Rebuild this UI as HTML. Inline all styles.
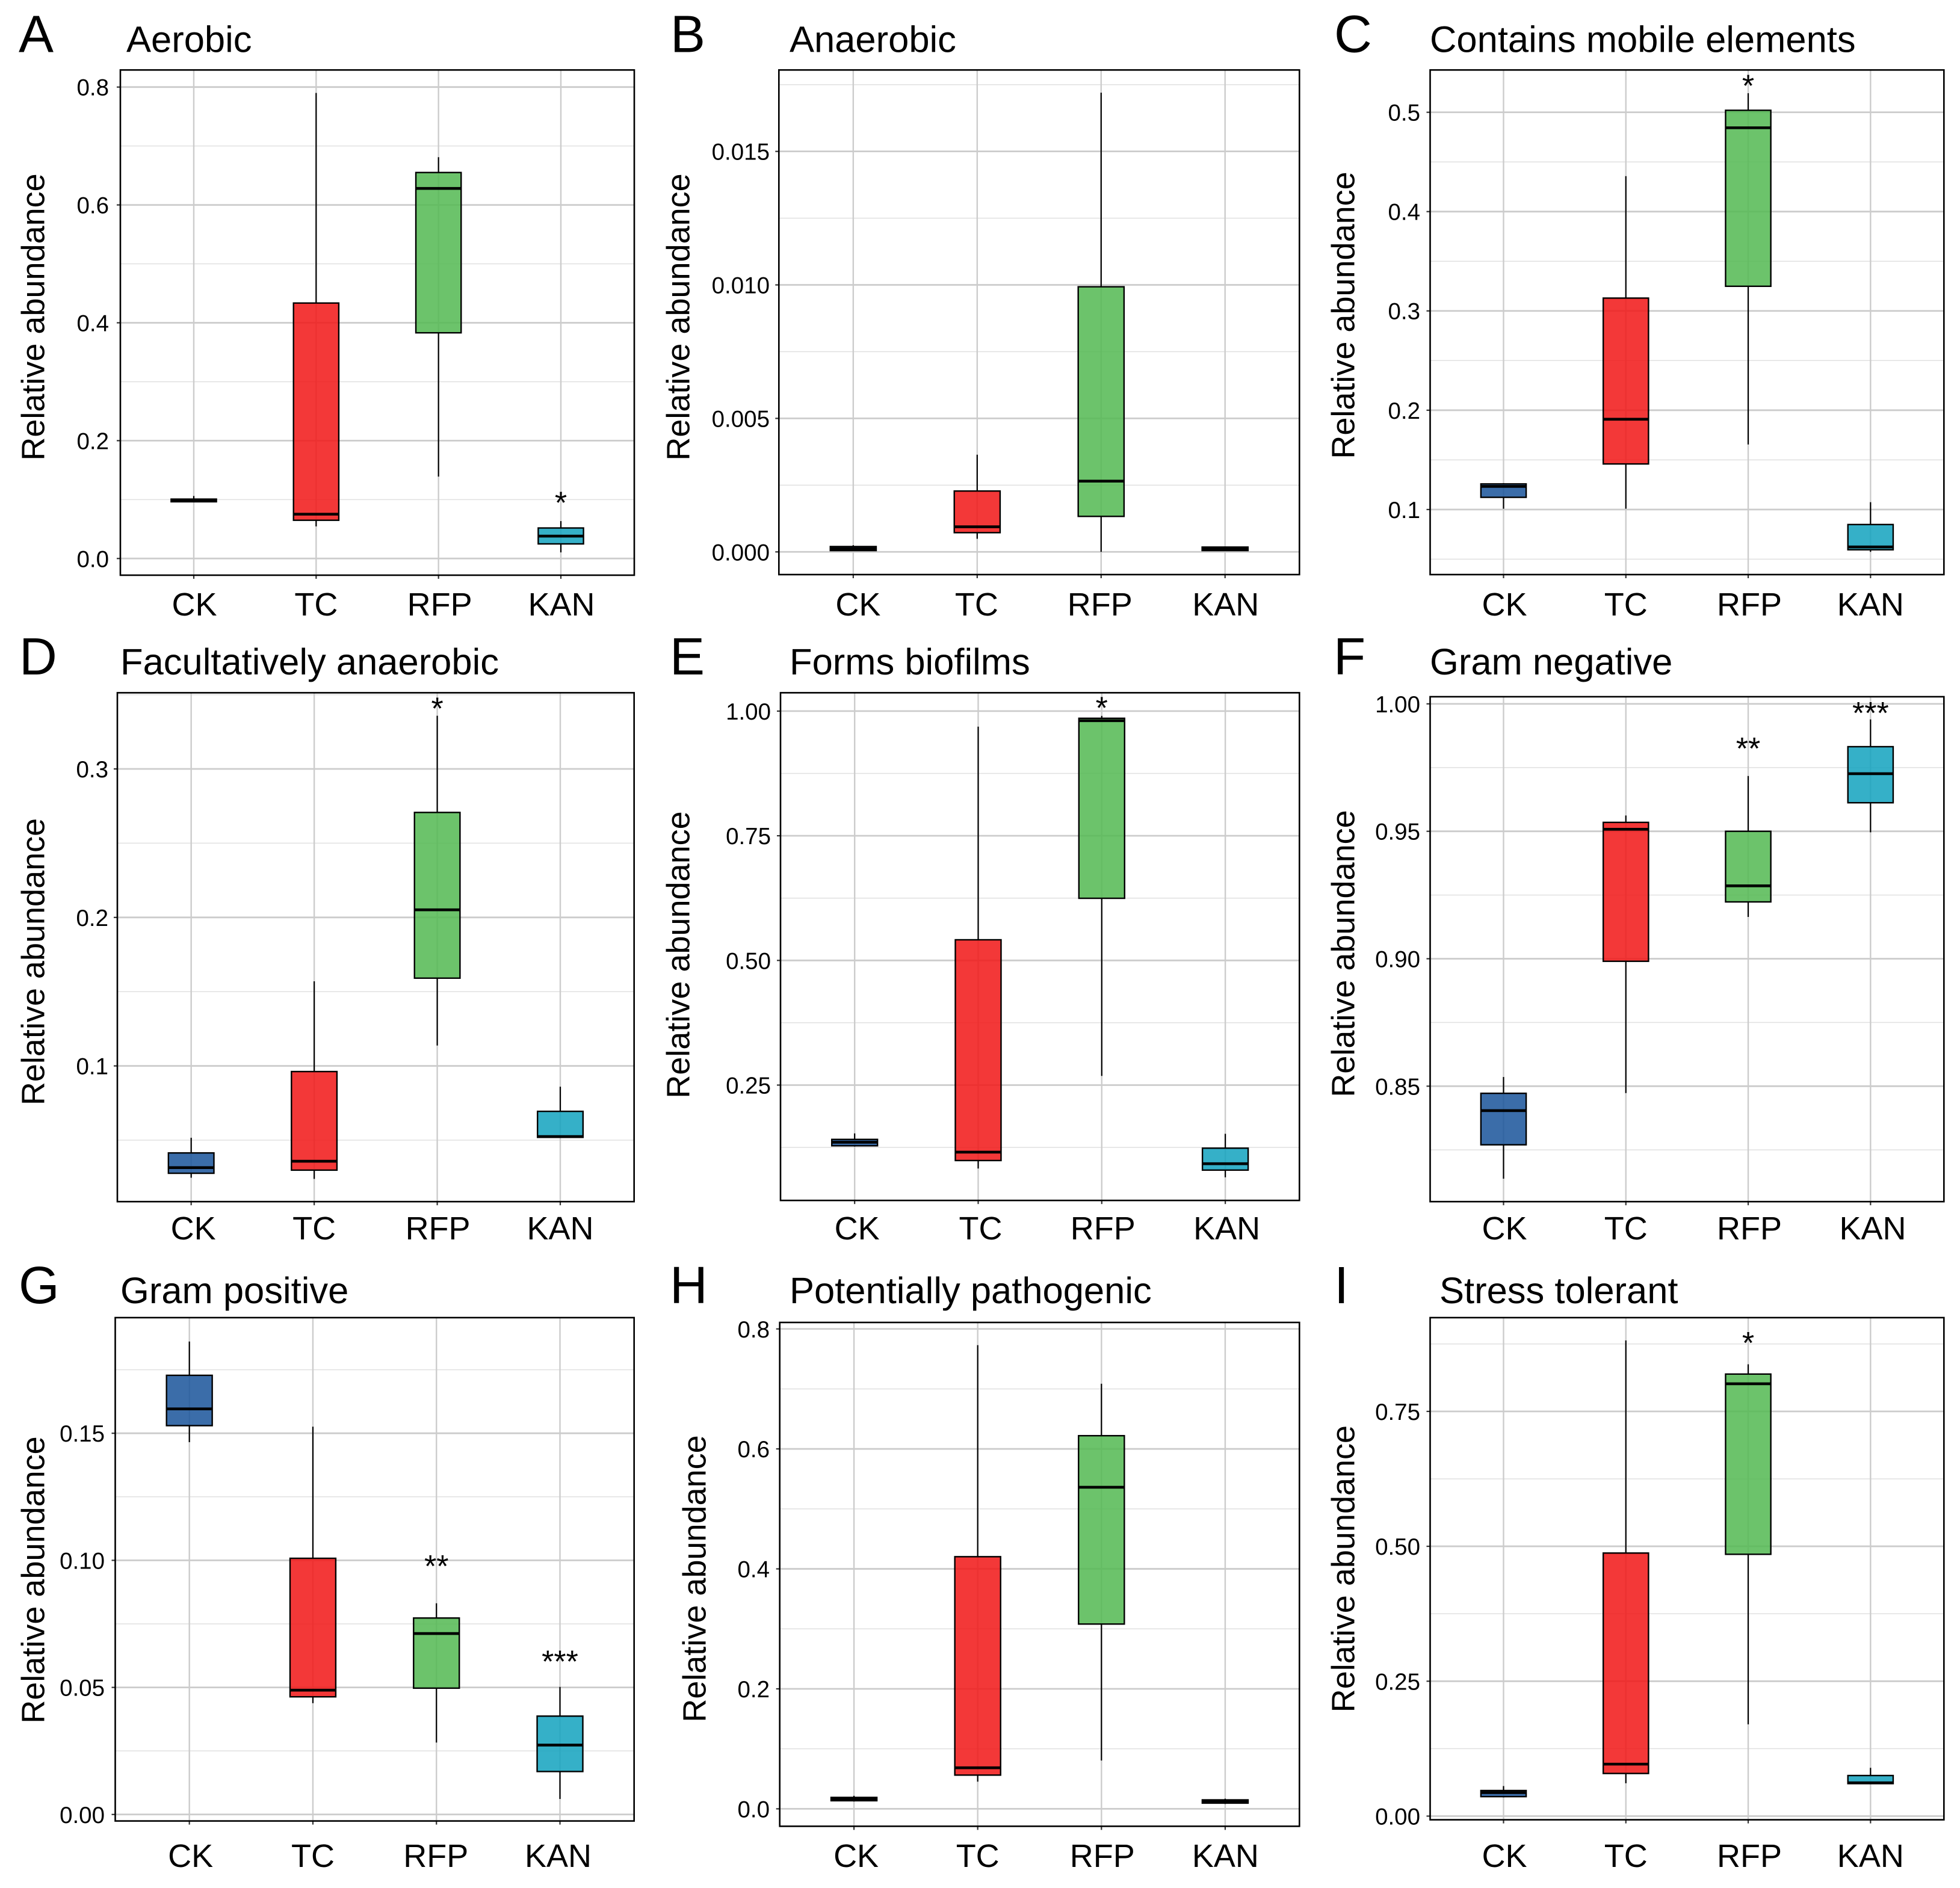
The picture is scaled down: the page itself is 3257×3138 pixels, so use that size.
<!DOCTYPE html>
<html>
<head>
<meta charset="utf-8">
<title>Relative abundance of predicted bacterial phenotypes</title>
<style>
html,body{margin:0;padding:0;background:#fff}
svg{display:block}
text{font-family:"Liberation Sans",Arial,sans-serif;fill:#000}
.letter{font-size:87px}
.title{font-size:61.5px}
.ylab{font-size:54px;text-anchor:middle}
</style>
</head>
<body>
<svg id="figure" xmlns="http://www.w3.org/2000/svg" width="3257" height="3138" viewBox="0 0 3257 3138">
<rect x="0" y="0" width="3257" height="3138" fill="#fff"/>

<g id="panel-aerobic">
<text class="letter" x="31" y="86.5">A</text>
<text class="title" x="210" y="86.5">Aerobic</text>
<text class="ylab" transform="translate(73.7 527) rotate(-90)">Relative abundance</text>
</g>
<g id="panel-anaerobic">
<text class="letter" x="1114" y="86.5">B</text>
<text class="title" x="1312" y="86.5">Anaerobic</text>
<text class="ylab" transform="translate(1145.6 527) rotate(-90)">Relative abundance</text>
</g>
<g id="panel-mobile">
<text class="letter" x="2217" y="86.5">C</text>
<text class="title" x="2376" y="86.5">Contains mobile elements</text>
<text class="ylab" transform="translate(2250.7 524) rotate(-90)">Relative abundance</text>
</g>
<g id="panel-facultative">
<text class="letter" x="32" y="1121">D</text>
<text class="title" x="200" y="1121">Facultatively anaerobic</text>
<text class="ylab" transform="translate(73.7 1598.5) rotate(-90)">Relative abundance</text>
</g>
<g id="panel-biofilm">
<text class="letter" x="1113" y="1121">E</text>
<text class="title" x="1312" y="1121">Forms biofilms</text>
<text class="ylab" transform="translate(1145.6 1587) rotate(-90)">Relative abundance</text>
</g>
<g id="panel-gramneg">
<text class="letter" x="2216" y="1121">F</text>
<text class="title" x="2376" y="1121">Gram negative</text>
<text class="ylab" transform="translate(2250.7 1585) rotate(-90)">Relative abundance</text>
</g>
<g id="panel-grampos">
<text class="letter" x="31" y="2166">G</text>
<text class="title" x="200" y="2166">Gram positive</text>
<text class="ylab" transform="translate(73.7 2626) rotate(-90)">Relative abundance</text>
</g>
<g id="panel-pathogenic">
<text class="letter" x="1113" y="2166">H</text>
<text class="title" x="1312" y="2166">Potentially pathogenic</text>
<text class="ylab" transform="translate(1172.3 2624) rotate(-90)">Relative abundance</text>
</g>
<g id="panel-stress">
<text class="letter" x="2217" y="2166">I</text>
<text class="title" x="2392" y="2166">Stress tolerant</text>
<text class="ylab" transform="translate(2250.7 2607.6) rotate(-90)">Relative abundance</text>
</g>
</svg>

<script>
const categories = ['CK', 'TC', 'RFP', 'KAN'];

const aerobicLow = [0.096, 0.0545, 0.139, 0.0104];
const aerobicQ1 = [0.0963, 0.0649, 0.383, 0.0248];
const aerobicMedian = [0.0985, 0.0752, 0.628, 0.038];
const aerobicQ3 = [0.1008, 0.4335, 0.655, 0.0518];
const aerobicHigh = [0.1061, 0.79, 0.681, 0.0635];
const aerobicTicks = ['0.0', '0.2', '0.4', '0.6', '0.8'];
const aerobicStars = ['', '', '', '*'];
const aerobicStarAt = [0, 0, 0, 0.102];

const anaerobicLow = [0.00003, 0.00049, 0, 0.00004];
const anaerobicQ1 = [0.00005, 0.00072, 0.00133, 0.00005];
const anaerobicMedian = [0.00012, 0.00094, 0.00265, 0.00012];
const anaerobicQ3 = [0.0002, 0.00228, 0.00993, 0.00018];
const anaerobicHigh = [0.00025, 0.00364, 0.0172, 0.0002];
const anaerobicTicks = ['0.000', '0.005', '0.010', '0.015'];
const anaerobicStars = ['', '', '', ''];
const anaerobicStarAt = [0, 0, 0, 0];

const mobileLow = [0.1008, 0.1008, 0.1655, 0.0574];
const mobileQ1 = [0.1123, 0.1459, 0.3248, 0.0595];
const mobileMedian = [0.1233, 0.1909, 0.4844, 0.0623];
const mobileQ3 = [0.1258, 0.3129, 0.502, 0.0849];
const mobileHigh = [0.1266, 0.4357, 0.5192, 0.1074];
const mobileTicks = ['0.1', '0.2', '0.3', '0.4', '0.5'];
const mobileStars = ['', '', '*', ''];
const mobileStarAt = [0, 0, 0.531, 0];

const facultativeLow = [0.0247, 0.0239, 0.1137, 0.0519];
const facultativeQ1 = [0.0277, 0.0298, 0.1591, 0.0519];
const facultativeMedian = [0.0315, 0.0358, 0.2051, 0.0524];
const facultativeQ3 = [0.0414, 0.0962, 0.2707, 0.0694];
const facultativeHigh = [0.0516, 0.157, 0.3358, 0.086];
const facultativeTicks = ['0.1', '0.2', '0.3'];
const facultativeStars = ['', '', '*', ''];
const facultativeStarAt = [0, 0, 0.3435, 0];

const biofilmLow = [0.1267, 0.0827, 0.2684, 0.0651];
const biofilmQ1 = [0.1283, 0.0987, 0.6246, 0.0795];
const biofilmMedian = [0.1355, 0.1155, 0.9808, 0.0923];
const biofilmQ3 = [0.1411, 0.5414, 0.9856, 0.1235];
const biofilmHigh = [0.1531, 0.9688, 0.9904, 0.1523];
const biofilmTicks = ['0.25', '0.50', '0.75', '1.00'];
const biofilmStars = ['', '', '*', ''];
const biofilmStarAt = [0, 0, 1.015, 0];

const gramNegLow = [0.8137, 0.8473, 0.9164, 0.9496];
const gramNegQ1 = [0.827, 0.899, 0.9223, 0.9612];
const gramNegMedian = [0.8404, 0.9508, 0.9286, 0.9726];
const gramNegQ3 = [0.8472, 0.9535, 0.95, 0.9832];
const gramNegHigh = [0.8536, 0.9562, 0.9717, 0.9939];
const gramNegTicks = ['0.85', '0.90', '0.95', '1.00'];
const gramNegStars = ['', '', '**', '***'];
const gramNegStarAt = [0, 0, 0.9842, 0.9981];

const gramPosLow = [0.1465, 0.0438, 0.0283, 0.0061];
const gramPosQ1 = [0.153, 0.0463, 0.0497, 0.0169];
const gramPosMedian = [0.1596, 0.0489, 0.0712, 0.0273];
const gramPosQ3 = [0.1728, 0.1008, 0.0773, 0.0387];
const gramPosHigh = [0.1861, 0.1526, 0.0831, 0.0502];
const gramPosTicks = ['0.00', '0.05', '0.10', '0.15'];
const gramPosStars = ['', '', '**', '***'];
const gramPosStarAt = [0, 0, 0.0994, 0.0618];

const pathogenicLow = [0.0122, 0.0453, 0.0805, 0.0081];
const pathogenicQ1 = [0.0135, 0.0562, 0.308, 0.0095];
const pathogenicMedian = [0.0162, 0.0684, 0.536, 0.0129];
const pathogenicQ3 = [0.019, 0.4203, 0.622, 0.0149];
const pathogenicHigh = [0.0217, 0.7729, 0.7086, 0.0169];
const pathogenicTicks = ['0.0', '0.2', '0.4', '0.6', '0.8'];
const pathogenicStars = ['', '', '', ''];
const pathogenicStarAt = [0, 0, 0, 0];

const stressLow = [0.0346, 0.0609, 0.17, 0.0594];
const stressQ1 = [0.0361, 0.079, 0.4852, 0.0602];
const stressMedian = [0.0436, 0.0963, 0.8012, 0.0617];
const stressQ3 = [0.0474, 0.4875, 0.8192, 0.0752];
const stressHigh = [0.0557, 0.8816, 0.8373, 0.0895];
const stressTicks = ['0.00', '0.25', '0.50', '0.75'];
const stressStars = ['', '', '*', ''];
const stressStarAt = [0, 0, 0.8847, 0];

const fillColors = ['#19549A', '#F11515', '#52B951', '#12A2BE'];

const layout = [
  {id:'aerobic', g:'panel-aerobic', l:200, t:116.3, r:1054, b:956, yMin:-0.0283, yMax:0.829, tickRight:181, labelY:1023, nudge:[1,0,2,1],
   low:aerobicLow, q1:aerobicQ1, med:aerobicMedian, q3:aerobicQ3, high:aerobicHigh, ticks:aerobicTicks, stars:aerobicStars, starAt:aerobicStarAt},
  {id:'anaerobic', g:'panel-anaerobic', l:1294.3, t:116.3, r:2159.3, b:955, yMin:-0.00085, yMax:0.01805, tickRight:1279, labelY:1023, nudge:[8,-1,-2,1],
   low:anaerobicLow, q1:anaerobicQ1, med:anaerobicMedian, q3:anaerobicQ3, high:anaerobicHigh, ticks:anaerobicTicks, stars:anaerobicStars, starAt:anaerobicStarAt},
  {id:'mobile-elements', g:'panel-mobile', l:2376.5, t:116.3, r:3230.3, b:955, yMin:0.0345, yMax:0.5426, tickRight:2360, labelY:1023, nudge:[1.5,0,2,0],
   low:mobileLow, q1:mobileQ1, med:mobileMedian, q3:mobileQ3, high:mobileHigh, ticks:mobileTicks, stars:mobileStars, starAt:mobileStarAt},
  {id:'facultatively-anaerobic', g:'panel-facultative', l:195, t:1151.4, r:1053.7, b:1997.2, yMin:0.0086, yMax:0.3513, tickRight:180, labelY:2060, nudge:[3.5,0,1,0],
   low:facultativeLow, q1:facultativeQ1, med:facultativeMedian, q3:facultativeQ3, high:facultativeHigh, ticks:facultativeTicks, stars:facultativeStars, starAt:facultativeStarAt},
  {id:'forms-biofilms', g:'panel-biofilm', l:1297, t:1151.4, r:2159.3, b:1995.2, yMin:0.0187, yMax:1.0368, tickRight:1281, labelY:2060, nudge:[4,4,2,2.5],
   low:biofilmLow, q1:biofilmQ1, med:biofilmMedian, q3:biofilmQ3, high:biofilmHigh, ticks:biofilmTicks, stars:biofilmStars, starAt:biofilmStarAt},
  {id:'gram-negative', g:'panel-gramneg', l:2376.5, t:1158, r:3230.3, b:1997.2, yMin:0.8047, yMax:1.0028, tickRight:2360, labelY:2060, nudge:[1.5,0,2,3.7],
   low:gramNegLow, q1:gramNegQ1, med:gramNegMedian, q3:gramNegQ3, high:gramNegHigh, ticks:gramNegTicks, stars:gramNegStars, starAt:gramNegStarAt},
  {id:'gram-positive', g:'panel-grampos', l:191.5, t:2190, r:1053.7, b:3026.6, yMin:-0.00256, yMax:0.1955, tickRight:174, labelY:3103, nudge:[2,0,-1,-3],
   low:gramPosLow, q1:gramPosQ1, med:gramPosMedian, q3:gramPosQ3, high:gramPosHigh, ticks:gramPosTicks, stars:gramPosStars, starAt:gramPosStarAt},
  {id:'potentially-pathogenic', g:'panel-pathogenic', l:1295.7, t:2198, r:2159.3, b:3035.4, yMin:-0.0291, yMax:0.8108, tickRight:1279, labelY:3103, nudge:[3.5,0,1.5,0.5],
   low:pathogenicLow, q1:pathogenicQ1, med:pathogenicMedian, q3:pathogenicQ3, high:pathogenicHigh, ticks:pathogenicTicks, stars:pathogenicStars, starAt:pathogenicStarAt},
  {id:'stress-tolerant', g:'panel-stress', l:2376.5, t:2190, r:3230.3, b:3024.6, yMin:-0.0068, yMax:0.9238, tickRight:2360, labelY:3103, nudge:[1.5,0,2,0],
   low:stressLow, q1:stressQ1, med:stressMedian, q3:stressQ3, high:stressHigh, ticks:stressTicks, stars:stressStars, starAt:stressStarAt}
];

const NS = 'http://www.w3.org/2000/svg';

function shape(parent, tag, attrs, content) {
  const node = document.createElementNS(NS, tag);
  Object.keys(attrs).forEach(function (k) { node.setAttribute(k, attrs[k]); });
  if (content !== undefined) node.textContent = content;
  parent.appendChild(node);
  return node;
}

layout.forEach(function (p) {
  const g = document.getElementById(p.g);
  const yScale = function (v) { return p.b - (v - p.yMin) / (p.yMax - p.yMin) * (p.b - p.t); };
  const xScale = function (i) { return p.l + (i + 0.6) / 4.2 * (p.r - p.l); };
  const boxW = 0.37 * (p.r - p.l) / 4.2;
  const tickValues = p.ticks.map(parseFloat);
  const step = tickValues[1] - tickValues[0];
  let el;

  el = shape(g, 'rect', {x: p.l, y: p.t, width: p.r - p.l, height: p.b - p.t, fill: '#fff'});
  
  

  for (let k = -1; k < tickValues.length; k++) {
    const v = tickValues[0] + (k + 0.5) * step;
    if (v <= p.yMin || v >= p.yMax) continue;
    el = shape(g, 'line', {x1: p.l, x2: p.r, y1: yScale(v), y2: yScale(v), stroke: '#e0e0e0', 'stroke-width': 1.5});
    
    
  }

  p.ticks.forEach(function (label, k) {
    const y = yScale(tickValues[k]);
    el = shape(g, 'line', {x1: p.l, x2: p.r, y1: y, y2: y, stroke: '#cccccc', 'stroke-width': 2.8});
    
    
  });

  categories.forEach(function (c, i) {
    el = shape(g, 'line', {x1: xScale(i), x2: xScale(i), y1: p.t, y2: p.b, stroke: '#cccccc', 'stroke-width': 2.4});
    
    
  });

  categories.forEach(function (c, i) {
    const x = xScale(i);
    const name = p.id + '-' + c.toLowerCase();
    el = shape(g, 'line', {x1: x, x2: x, y1: yScale(p.high[i]), y2: yScale(p.q3[i]), stroke: '#000', 'stroke-width': 2.2});
    
    
    el = shape(g, 'line', {x1: x, x2: x, y1: yScale(p.q1[i]), y2: yScale(p.low[i]), stroke: '#000', 'stroke-width': 2.2});
    
    
    el = shape(g, 'rect', {x: x - boxW / 2, y: yScale(p.q3[i]), width: boxW, height: yScale(p.q1[i]) - yScale(p.q3[i]), fill: fillColors[i], 'fill-opacity': 0.85, stroke: '#000', 'stroke-width': 2.4});
    
    
    el = shape(g, 'line', {x1: x - boxW / 2, x2: x + boxW / 2, y1: yScale(p.med[i]), y2: yScale(p.med[i]), stroke: '#000', 'stroke-width': 4.6});
    
    
    if (p.stars[i]) {
      el = shape(g, 'text', {x: x, y: yScale(p.starAt[i]) + 25, 'font-size': 52, 'text-anchor': 'middle'}, p.stars[i]);
      
      
    }
    el = shape(g, 'line', {x1: x, x2: x, y1: p.b, y2: p.b + 6, stroke: '#333', 'stroke-width': 2.2});
    
    
    el = shape(g, 'text', {x: x + p.nudge[i], y: p.labelY, 'font-size': 54, 'text-anchor': 'middle'}, c);
    
    
  });

  p.ticks.forEach(function (label, k) {
    const y = yScale(tickValues[k]);
    el = shape(g, 'line', {x1: p.l - 6, x2: p.l, y1: y, y2: y, stroke: '#333', 'stroke-width': 2.2});
    
    
    el = shape(g, 'text', {x: p.tickRight, y: y + 14, 'font-size': 38.5, 'text-anchor': 'end'}, label);
    
    
  });

  el = shape(g, 'rect', {x: p.l, y: p.t, width: p.r - p.l, height: p.b - p.t, fill: 'none', stroke: '#000', 'stroke-width': 2.6});
  
  
});
</script>
</body>
</html>
